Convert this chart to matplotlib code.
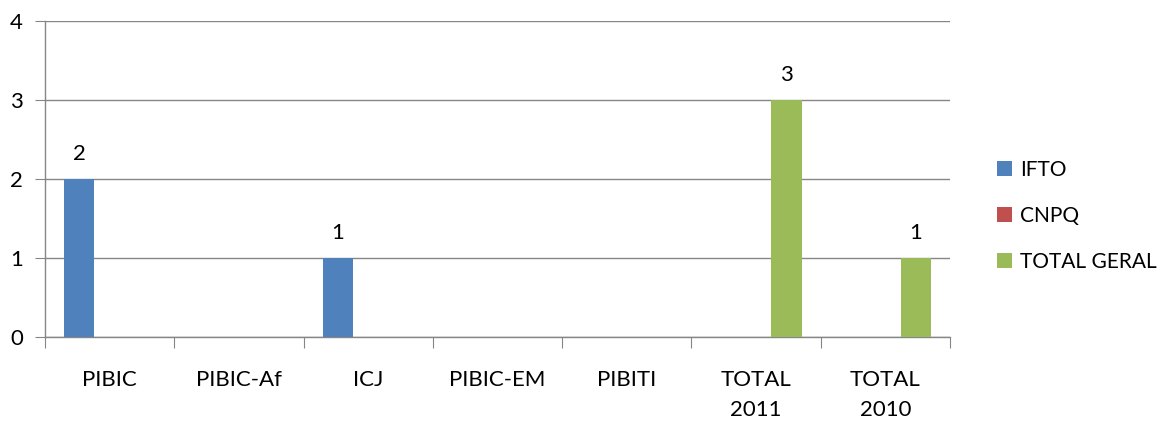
import matplotlib
matplotlib.use("Agg")
import matplotlib.pyplot as plt
import numpy as np

categories = ["PIBIC", "PIBIC-Af", "ICJ", "PIBIC-EM", "PIBITI", "TOTAL\n2011", "TOTAL\n2010"]
series_names = ["IFTO", "CNPQ", "TOTAL GERAL"]
ifto = [2, None, 1, None, None, None, None]
cnpq = [None, None, None, None, None, None, None]
total_geral = [None, None, None, None, None, 3, 1]
colors = ["#4F81BD", "#C0504D", "#9BBB59"]
yticks = [0, 1, 2, 3, 4]

plt.rcParams['font.family'] = ['Lato', 'DejaVu Sans']
FS = 16
LFS = 15

fig = plt.figure(figsize=(11.6, 4.21), dpi=100)
ax = fig.add_axes([45/1160, 1-337/421, (950-45)/1160, (337-21)/421])

x = np.arange(len(categories))
w = 0.235
grey = "#868686"
for i, (vals, name, c) in enumerate(zip([ifto, cnpq, total_geral], series_names, colors)):
    pos = x + (i - 1) * w
    h = [v if v is not None else 0 for v in vals]
    ax.bar(pos, h, width=w, color=c, label=name, zorder=3)
    for p, v in zip(pos, vals):
        if v is not None:
            ax.annotate(str(v), (p, v), xytext=(0, 11), textcoords="offset points",
                        ha="center", va="bottom", fontsize=FS, color="black")

ax.set_xlim(-0.5, len(categories) - 0.5)
ax.set_ylim(0, 4)
ax.set_yticks(yticks)
ax.yaxis.grid(True, color=grey, linewidth=1, zorder=0)
ax.tick_params(axis="y", length=7, color=grey, labelsize=FS, pad=9)

ax.set_xticks(np.arange(len(categories) + 1) - 0.5)
ax.set_xticklabels([])
ax.tick_params(axis="x", which="major", length=8, color=grey)
ax.set_xticks(x, minor=True)
ax.set_xticklabels(categories, minor=True, fontsize=FS, linespacing=1.6, va="top")
ax.tick_params(axis="x", which="minor", length=0, pad=24)

for s in ["top", "right"]:
    ax.spines[s].set_visible(False)
for s in ["left", "bottom"]:
    ax.spines[s].set_color(grey)
    ax.spines[s].set_linewidth(1)

leg = fig.legend(loc="center left", bbox_to_anchor=(997/1160, 1-216/421), frameon=False,
                 fontsize=LFS, handlelength=0.72, handleheight=0.72, handletextpad=0.4,
                 labelspacing=1.25, borderaxespad=0, borderpad=0)

fig.savefig("out.png", dpi=100)
